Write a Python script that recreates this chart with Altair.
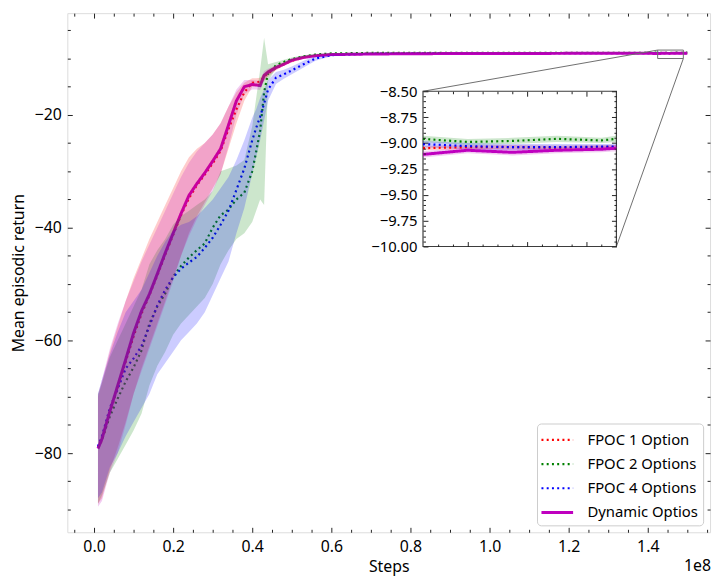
import altair as alt
import pandas as pd

# ---------------- data ----------------
steps_m = [1, 2, 4, 6, 8, 10, 12, 14, 16, 18, 20, 22, 24, 26, 28, 30, 32, 34, 36, 38,
           40, 41, 42, 43, 44, 46, 48, 50, 53, 56, 60, 70, 80, 90, 100, 110, 120, 130,
           140, 142.5, 144, 145.5, 147, 148.5, 149, 150]

fpoc1_mean = [-79.0, -77.8, -73.0, -68.3, -63.8, -59.3, -55.3, -52.0, -48.5, -44.8, -41.3, -37.8,
              -34.8, -32.5, -30.6, -28.6, -26.4, -22.5, -19.0, -16.0, -14.3, -14.2, -14.1, -13.2,
              -12.6, -11.7, -11.0, -10.4, -9.8, -9.5, -9.3, -9.15, -9.1, -9.08, -9.07, -9.06,
              -9.05, -9.05, -9.05, -9.05, -9.04, -9.04, -9.045, -9.04, -9.04, -9.04]
fpoc1_lo = [-89.0, -88.0, -83.0, -79.0, -74.5, -69.5, -65.0, -61.0, -57.0, -53.0, -49.0, -45.0,
            -41.0, -38.0, -35.5, -33.0, -30.5, -26.0, -21.5, -17.5, -15.0, -14.9, -14.8, -13.9,
            -13.2, -12.1, -11.3, -10.7, -10.0, -9.65, -9.4, -9.22, -9.16, -9.13, -9.11, -9.1,
            -9.08, -9.08, -9.08, -9.07, -9.06, -9.06, -9.065, -9.06, -9.06, -9.06]
fpoc1_hi = [-70.0, -67.5, -62.0, -57.5, -53.0, -49.0, -45.5, -42.0, -39.0, -36.0, -33.0, -30.0,
            -27.5, -26.0, -25.0, -23.5, -21.5, -18.5, -16.0, -14.3, -13.5, -13.5, -13.4, -12.6,
            -12.0, -11.3, -10.7, -10.1, -9.6, -9.35, -9.2, -9.08, -9.04, -9.03, -9.03, -9.02,
            -9.02, -9.02, -9.02, -9.03, -9.02, -9.02, -9.025, -9.02, -9.02, -9.02]

fpoc2_mean = [-79.0, -77.5, -73.5, -70.3, -67.3, -64.8, -61.8, -57.0, -54.0, -51.7, -48.7, -46.8,
              -45.3, -44.0, -42.8, -40.0, -37.8, -36.8, -35.0, -33.8, -30.0, -26.5, -22.8, -16.0,
              -12.6, -11.2, -10.6, -10.1, -9.6, -9.3, -9.1, -9.0, -8.98, -8.97, -8.97, -8.97,
              -8.97, -8.97, -8.97, -8.96, -8.99, -8.98, -8.96, -8.975, -8.96, -8.96]
fpoc2_lo = [-89.0, -87.5, -83.5, -81.0, -78.5, -76.0, -73.0, -68.0, -64.5, -62.0, -59.0, -57.0,
            -55.5, -54.0, -52.5, -50.0, -46.5, -44.0, -42.0, -41.0, -39.0, -37.0, -35.0, -36.0,
            -14.0, -11.8, -11.0, -10.4, -9.8, -9.45, -9.2, -9.05, -9.02, -9.01, -9.0, -9.0,
            -9.0, -9.0, -9.0, -8.99, -9.02, -9.01, -8.99, -9.0, -8.99, -8.99]
fpoc2_hi = [-69.5, -67.5, -63.0, -60.0, -57.0, -54.0, -51.0, -46.5, -44.0, -42.0, -39.5, -38.0,
            -37.0, -36.0, -35.0, -33.5, -30.0, -29.5, -29.0, -28.0, -22.0, -17.0, -12.0, -6.3,
            -11.0, -10.6, -10.2, -9.8, -9.4, -9.15, -9.0, -8.95, -8.94, -8.93, -8.94, -8.94,
            -8.94, -8.94, -8.94, -8.93, -8.96, -8.95, -8.93, -8.95, -8.93, -8.93]

fpoc4_mean = [-78.8, -77.0, -72.0, -68.6, -65.0, -63.2, -61.0, -57.5, -53.8, -51.0, -48.8, -47.3,
              -46.2, -45.2, -43.6, -41.8, -39.5, -37.0, -33.3, -29.5, -24.5, -22.3, -20.3, -18.0,
              -15.5, -13.4, -12.8, -12.1, -11.0, -10.0, -9.4, -9.15, -9.1, -9.08, -9.06, -9.05,
              -9.04, -9.04, -9.03, -9.01, -9.03, -9.04, -9.04, -9.035, -9.035, -9.035]
fpoc4_lo = [-88.0, -87.0, -82.5, -80.0, -77.0, -74.5, -72.0, -69.5, -66.0, -64.0, -62.0, -60.0,
            -58.5, -57.0, -55.0, -52.0, -49.0, -46.0, -41.0, -36.5, -30.5, -27.5, -24.5, -21.0,
            -17.5, -14.5, -13.6, -12.8, -11.6, -10.4, -9.6, -9.25, -9.17, -9.13, -9.1, -9.09,
            -9.07, -9.07, -9.06, -9.04, -9.06, -9.07, -9.07, -9.06, -9.06, -9.06]
fpoc4_hi = [-69.5, -67.0, -62.5, -58.5, -55.0, -53.0, -51.0, -48.0, -45.0, -42.5, -40.5, -39.5,
            -39.0, -38.0, -36.5, -35.0, -33.0, -31.0, -28.0, -24.5, -20.5, -19.0, -17.0, -15.5,
            -13.8, -12.4, -12.0, -11.4, -10.4, -9.6, -9.2, -9.06, -9.04, -9.03, -9.02, -9.02,
            -9.01, -9.01, -9.0, -8.98, -9.0, -9.01, -9.01, -9.01, -9.01, -9.01]

dyn_mean = [-79.2, -77.5, -72.6, -68.0, -63.4, -58.7, -54.8, -51.8, -48.2, -44.5, -41.0, -37.5,
            -34.3, -32.2, -30.3, -28.2, -26.0, -21.8, -17.5, -15.0, -14.6, -14.7, -14.8, -13.0,
            -12.4, -11.6, -11.0, -10.3, -9.8, -9.5, -9.3, -9.2, -9.15, -9.12, -9.1, -9.1,
            -9.08, -9.08, -9.07, -9.11, -9.07, -9.09, -9.07, -9.06, -9.05, -9.05]
dyn_lo = [-89.5, -88.5, -83.5, -80.0, -75.0, -69.5, -65.5, -61.5, -57.5, -53.5, -49.5, -45.0,
          -41.5, -38.5, -36.0, -33.5, -30.5, -25.5, -20.0, -16.3, -15.5, -15.5, -15.6, -14.0,
          -13.0, -12.0, -11.3, -10.6, -10.0, -9.65, -9.4, -9.28, -9.22, -9.18, -9.16, -9.15,
          -9.13, -9.13, -9.12, -9.14, -9.10, -9.12, -9.10, -9.09, -9.08, -9.08]
dyn_hi = [-69.5, -67.0, -61.5, -57.0, -53.0, -49.5, -46.0, -43.0, -40.0, -37.0, -34.0, -31.0,
          -28.5, -26.5, -25.0, -23.5, -21.5, -18.5, -15.5, -13.8, -13.8, -13.9, -14.0, -12.2,
          -11.8, -11.2, -10.7, -10.0, -9.6, -9.35, -9.2, -9.12, -9.08, -9.06, -9.05, -9.05,
          -9.03, -9.03, -9.02, -9.08, -9.04, -9.06, -9.04, -9.03, -9.02, -9.02]

SERIES = ["FPOC 1 Option", "FPOC 2 Options", "FPOC 4 Options", "Dynamic Optios"]
COLORS = ["#ff0000", "#008000", "#0000ff", "#bf00bf"]
DASHES = [[2, 3.3], [2, 3.3], [2, 3.3], [1, 0]]
WIDTHS = [2.2, 2.2, 2.2, 3.0]

means = [fpoc1_mean, fpoc2_mean, fpoc4_mean, dyn_mean]
los = [fpoc1_lo, fpoc2_lo, fpoc4_lo, dyn_lo]
his = [fpoc1_hi, fpoc2_hi, fpoc4_hi, dyn_hi]

rows = []
for k, name in enumerate(SERIES):
    for s, m, lo, hi in zip(steps_m, means[k], los[k], his[k]):
        rows.append({"series": name, "order": k, "step": s * 1e6, "mean": m, "lo": lo, "hi": hi})
df = pd.DataFrame(rows)

# ---------------- layout ----------------
W, H = 650, 525
FONT = "Noto Sans"
FS = 16        # main axes text
FS_IN = 15     # inset labels
FS_LEG = 15    # legend labels
X_DOM = [-6.75e6, 155.75e6]
Y_DOM = [-94.05, -1.95]
IX_DOM = [142.5e6, 149e6]
IY_DOM = [-10.0, -8.5]
IX_RANGE = [359.7, 555.3]
IY_RANGE = [236, 79]

df_in = df[(df["step"] >= IX_DOM[0]) & (df["step"] <= IX_DOM[1])]

MX_MAJOR = [i * 2e7 for i in range(0, 8)]
MX_MINOR = [i * 5e6 for i in range(-1, 32) if i % 4 != 0]
MY_MAJOR = [-80, -60, -40, -20]
MY_MINOR = [v for v in range(-90, 0, 5) if v % 20 != 0]
IXT_MAJOR = [144e6, 146e6, 148e6]
IXT_MINOR = [v * 1e5 for v in range(1430, 1490, 5) if v % 20 != 0]
IYT_MAJOR = [-10.0, -9.75, -9.5, -9.25, -9.0, -8.75, -8.5]
IYT_MINOR = [round(-10 + 0.05 * i, 2) for i in range(1, 30) if i % 5 != 0]

TICK_COLOR = "#222222"
FRAME = "#3d3d3d"

sx_main = alt.Scale(domain=X_DOM, nice=False, zero=False)
sy_main = alt.Scale(domain=Y_DOM, nice=False, zero=False)
sx_in = alt.Scale(domain=IX_DOM, range=IX_RANGE, nice=False, zero=False)
sy_in = alt.Scale(domain=IY_DOM, range=IY_RANGE, nice=False, zero=False)

stroke_scale = alt.Scale(domain=SERIES, range=COLORS)
dash_scale = alt.Scale(domain=SERIES, range=DASHES)
width_scale = alt.Scale(type="ordinal", domain=SERIES, range=WIDTHS)
# bands: same colours, domain listed in reverse so its (hidden) legend stays separate
fill_scale = alt.Scale(domain=SERIES[::-1], range=COLORS[::-1])


def tick_axis(orient, offset, values, size):
    return alt.Axis(orient=orient, offset=offset, values=values, tickSize=size,
                    labels=False, domain=False, grid=False, title=None, ticks=True,
                    tickColor=TICK_COLOR, tickWidth=1, zindex=2)


def axis_layer(data, sx, sy, xaxis=None, yaxis=None):
    enc = {}
    enc["x"] = alt.X("step:Q", scale=sx, axis=xaxis) if xaxis is not None else alt.X("step:Q", scale=sx, axis=None)
    enc["y"] = alt.Y("mean:Q", scale=sy, axis=yaxis) if yaxis is not None else alt.Y("mean:Q", scale=sy, axis=None)
    return alt.Chart(data).mark_point(opacity=0).encode(**enc)


legend = alt.Legend(title=None, orient="bottom-right", offset=7, symbolType="M-1.6,0H1.6",
                    symbolSize=400, labelFontSize=FS_LEG, labelFont=FONT, symbolOffset=4,
                    labelColor="black", fillColor="white", strokeColor="#cccccc",
                    cornerRadius=4, padding=5, rowPadding=4.5, labelOffset=19)


def lines(data, sx, sy, with_legend):
    lg = legend if with_legend else None
    enc = dict(
        x=alt.X("step:Q", scale=sx, axis=None),
        y=alt.Y("mean:Q", scale=sy, axis=None),
        stroke=alt.Stroke("series:N", scale=stroke_scale, legend=lg),
        strokeDash=alt.StrokeDash("series:N", scale=dash_scale, legend=lg),
        strokeWidth=alt.StrokeWidth("series:N", scale=width_scale, legend=lg),
    )
    return alt.Chart(data).mark_line().encode(**enc)


def bands(data, sx, sy):
    return alt.Chart(data).mark_area(fillOpacity=0.2, strokeWidth=0).encode(
        x=alt.X("step:Q", scale=sx, axis=None),
        y=alt.Y("lo:Q", scale=sy, axis=None),
        y2="hi:Q",
        fill=alt.Fill("series:N", scale=fill_scale, legend=None),
    )


# ---------------- main panel ----------------
main_bands = bands(df, sx_main, sy_main)
main_lines = lines(df, sx_main, sy_main, True)

ind = pd.DataFrame({"x": [IX_DOM[0]], "x2": [IX_DOM[1]], "y": [IY_DOM[0]], "y2": [IY_DOM[1]]})
indicator = alt.Chart(ind).mark_rect(fill="white", fillOpacity=0, stroke="#6e6e6e", strokeWidth=1).encode(
    x=alt.X("x:Q", scale=sx_main, axis=None), x2="x2:Q",
    y=alt.Y("y:Q", scale=sy_main, axis=None), y2="y2:Q")


def px_to_x(px):
    return X_DOM[0] + px / W * (X_DOM[1] - X_DOM[0])


def py_to_y(py):
    return Y_DOM[1] - py / H * (Y_DOM[1] - Y_DOM[0])


conn = pd.DataFrame({
    "x": [IX_DOM[0], IX_DOM[1]],
    "y": [IY_DOM[1], IY_DOM[0]],
    "x2": [px_to_x(IX_RANGE[0]), px_to_x(IX_RANGE[1])],
    "y2": [py_to_y(IY_RANGE[1]), py_to_y(IY_RANGE[0])],
})
connectors = alt.Chart(conn).mark_rule(color="#6e6e6e", strokeWidth=1).encode(
    x=alt.X("x:Q", scale=sx_main, axis=None), x2="x2:Q",
    y=alt.Y("y:Q", scale=sy_main, axis=None), y2="y2:Q")

x_label_axis = alt.Axis(orient="bottom", values=MX_MAJOR, ticks=False, domain=False, grid=False,
                        labelExpr="format(datum.value / 1e8, '.1f')", labelFontSize=FS,
                        labelFont=FONT, labelColor="black", labelPadding=6, labelFlush=False,
                        title="Steps", titleFontSize=FS, titleFont=FONT, titleFontWeight="normal",
                        titleColor="black", titlePadding=5)
y_label_axis = alt.Axis(orient="left", values=MY_MAJOR, ticks=False, domain=False, grid=False,
                        labelFontSize=FS, labelFont=FONT, labelColor="black", labelPadding=6,
                        labelFlush=False, title="Mean episodic return", titleFontSize=FS,
                        titleFont=FONT, titleFontWeight="normal", titleColor="black",
                        titlePadding=8)

main_axes = [
    axis_layer(df, sx_main, sy_main, x_label_axis, y_label_axis),
    axis_layer(df, sx_main, sy_main, tick_axis("top", -H, MX_MAJOR, 5), tick_axis("right", -W, MY_MAJOR, 5)),
    axis_layer(df, sx_main, sy_main, tick_axis("top", -H, MX_MINOR, 3), tick_axis("right", -W, MY_MINOR, 3)),
    axis_layer(df, sx_main, sy_main, tick_axis("bottom", -H, MX_MAJOR, 5), tick_axis("left", -W, MY_MAJOR, 5)),
    axis_layer(df, sx_main, sy_main, tick_axis("bottom", -H, MX_MINOR, 3), tick_axis("left", -W, MY_MINOR, 3)),
]

offset_text = alt.Chart(pd.DataFrame({"t": ["1e8"]})).mark_text(
    align="right", baseline="alphabetic", fontSize=FS, font=FONT, color="black").encode(
    x=alt.value(W + 1), y=alt.value(H + 39), text="t:N")

main = alt.layer(main_lines, main_bands, indicator, connectors, *main_axes, offset_text).resolve_axis(
    x="independent", y="independent")

# ---------------- inset panel ----------------
bg = pd.DataFrame({"x": [IX_DOM[0]], "x2": [IX_DOM[1]], "y": [IY_DOM[0]], "y2": [IY_DOM[1]]})
inset_bg = alt.Chart(bg).mark_rect(fill="white", stroke=FRAME, strokeWidth=1.2).encode(
    x=alt.X("x:Q", scale=sx_in, axis=None), x2="x2:Q",
    y=alt.Y("y:Q", scale=sy_in, axis=None), y2="y2:Q")

inset_bands = bands(df_in, sx_in, sy_in)
inset_lines = lines(df_in, sx_in, sy_in, True)

iy_label_axis = alt.Axis(orient="left", offset=-IX_RANGE[0], values=IYT_MAJOR, ticks=False,
                         domain=False, grid=False, format=".2f", labelFontSize=FS_IN, labelFont=FONT,
                         labelColor="black", labelPadding=6, labelFlush=False, title=None, zindex=2)
IB = IY_RANGE[0]
IT = IY_RANGE[1]
inset_axes = [
    axis_layer(df_in, sx_in, sy_in, tick_axis("top", -IB, IXT_MAJOR, 5), iy_label_axis),
    axis_layer(df_in, sx_in, sy_in, tick_axis("top", -IB, IXT_MINOR, 2.5),
               tick_axis("right", IX_RANGE[0] - W, IYT_MAJOR, 5)),
    axis_layer(df_in, sx_in, sy_in, tick_axis("bottom", IT - H, IXT_MAJOR, 5),
               tick_axis("right", IX_RANGE[0] - W, IYT_MINOR, 2.5)),
    axis_layer(df_in, sx_in, sy_in, tick_axis("bottom", IT - H, IXT_MINOR, 2.5),
               tick_axis("left", -IX_RANGE[1], IYT_MAJOR, 5)),
    axis_layer(df_in, sx_in, sy_in, None, tick_axis("left", -IX_RANGE[1], IYT_MINOR, 2.5)),
]

inset = alt.layer(inset_bg, inset_bands, inset_lines, *inset_axes).resolve_axis(
    x="independent", y="independent")

chart = alt.layer(main, inset).resolve_scale(x="independent", y="independent").properties(
    width=W, height=H,
    autosize=alt.AutoSizeParams(type="none"),
    padding={"left": 60, "top": 2, "right": 5, "bottom": 41},
).configure_view(stroke=FRAME, strokeWidth=1.2).configure(font=FONT).configure_legend(
    orient="bottom-right")

chart.save("out.html", embed_options={"renderer": "svg", "actions": False})
